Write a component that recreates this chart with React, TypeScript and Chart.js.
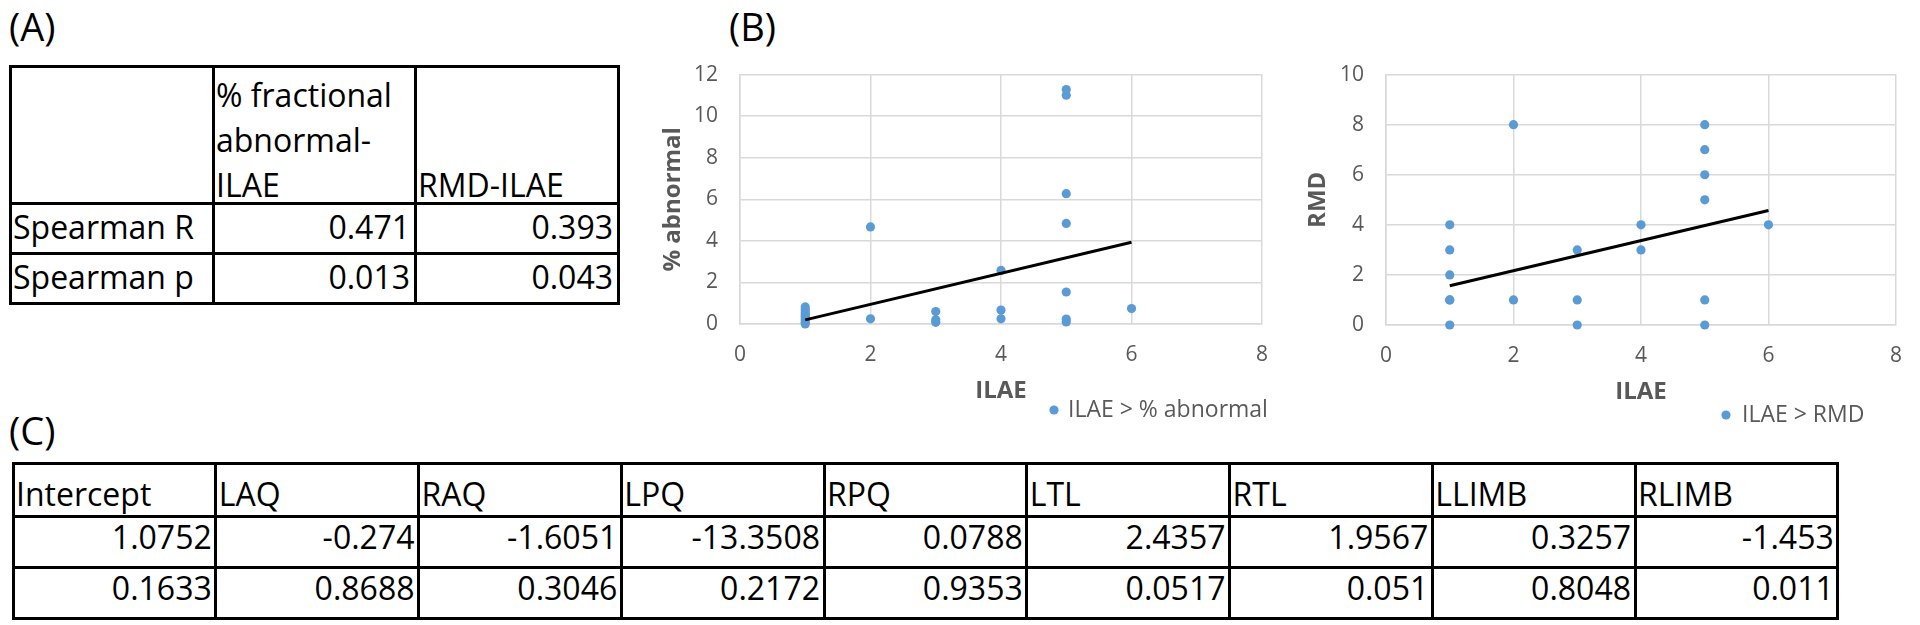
import React, { useEffect, useRef } from 'react';
import { Chart, registerables } from 'chart.js';
Chart.register(...registerables);

// ---------- Data ----------
// Panel B (left): ILAE vs % abnormal
const abnIlae = [1, 1, 1, 1, 1, 1, 1, 1, 1, 2, 2, 3, 3, 3, 4, 4, 4, 5, 5, 5, 5, 5, 5, 5, 6];
const abnPct = [0.82, 0.7, 0.58, 0.47, 0.37, 0.27, 0.17, 0.08, 0.0, 4.67, 0.25, 0.6, 0.2, 0.08, 2.58, 0.67, 0.25, 11.28, 11.01, 6.27, 4.84, 1.54, 0.24, 0.1, 0.74];
const abnTrendX = [1, 6];
const abnTrendY = [0.2, 3.93];

// Panel B (right): ILAE vs RMD
const rmdIlae = [1, 1, 1, 1, 1, 1, 2, 2, 3, 3, 3, 4, 4, 5, 5, 5, 5, 5, 5, 6];
const rmdVal = [4, 3, 2, 1, 1, 0, 8, 1, 3, 1, 0, 4, 3, 8, 7, 6, 5, 1, 0, 4];
const rmdTrendX = [1, 6];
const rmdTrendY = [1.57, 4.57];

const xTicksMax = 8;
const abnYMax = 12;
const rmdYMax = 10;

// Panel A table
const tableAHeader = ['', '% fractional\nabnormal-\nILAE', 'RMD-ILAE'];
const tableARowLabels = ['Spearman R', 'Spearman p'];
const tableAFractional = ['0.471', '0.013'];
const tableARmd = ['0.393', '0.043'];

// Panel C table
const tableCHeader = ['Intercept', 'LAQ', 'RAQ', 'LPQ', 'RPQ', 'LTL', 'RTL', 'LLIMB', 'RLIMB'];
const tableCRow1 = ['1.0752', '-0.274', '-1.6051', '-13.3508', '0.0788', '2.4357', '1.9567', '0.3257', '-1.453'];
const tableCRow2 = ['0.1633', '0.8688', '0.3046', '0.2172', '0.9353', '0.0517', '0.051', '0.8048', '0.011'];

// ---------- Styles ----------
const FONT = '"Open Sans", "Noto Sans", sans-serif';
const BLUE = '#5B9BD5';
const GRAY = '#595959';
const GRID = '#D9D9D9';

const dotLegend = {
  id: 'dotLegend',
  afterDraw(chart: any, _args: any, opts: any) {
    const ctx = chart.ctx;
    const ds = chart.data.datasets[0];
    ctx.save();
    ctx.fillStyle = ds.backgroundColor;
    ctx.beginPath();
    ctx.arc(opts.x, opts.y, 4.6, 0, Math.PI * 2);
    ctx.fill();
    ctx.font = `23px ${FONT}`;
    ctx.fillStyle = GRAY;
    ctx.textBaseline = 'middle';
    ctx.textAlign = 'left';
    ctx.fillText(ds.label, opts.x + opts.gap, opts.y);
    ctx.restore();
  },
};

type PanelProps = {
  left: number; top: number; width: number; height: number;
  xs: number[]; ys: number[]; trendX: number[]; trendY: number[];
  yMax: number; yTitle: string; label: string;
  padTop: number; padRight: number; padBottom: number;
  yAxisWidth: number; xAxisHeight: number;
  yTitlePad: number; xTitlePad: number;
  legendX: number; legendY: number; legendGap: number;
};

function ScatterPanel(p: PanelProps) {
  const ref = useRef<HTMLCanvasElement>(null);
  useEffect(() => {
    const canvas = ref.current!;
    const points = p.xs.map((x, i) => ({ x, y: p.ys[i] }));
    const trend = p.trendX.map((x, i) => ({ x, y: p.trendY[i] }));
    const chart = new Chart(canvas, {
      type: 'scatter',
      data: {
        datasets: [
          {
            label: p.label, data: points, backgroundColor: BLUE, borderColor: BLUE,
            pointRadius: 4.6, pointHoverRadius: 4.6, pointBorderWidth: 0, clip: false, order: 1,
          } as any,
          {
            label: 'Linear trend', data: trend, showLine: true, borderColor: '#000', backgroundColor: '#000',
            borderWidth: 3, pointRadius: 0, clip: false, order: 0,
          } as any,
        ],
      },
      options: {
        responsive: false,
        animation: false,
        devicePixelRatio: 1,
        events: [],
        layout: { padding: { left: 0, top: p.padTop, right: p.padRight, bottom: p.padBottom } },
        plugins: {
          legend: { display: false },
          tooltip: { enabled: false },
          dotLegend: { x: p.legendX, y: p.legendY, gap: p.legendGap },
        } as any,
        scales: {
          x: {
            type: 'linear', position: 'bottom', min: 0, max: xTicksMax,
            ticks: { stepSize: 2, color: GRAY, font: { family: FONT, size: 21 }, padding: 18 },
            grid: { color: GRID, lineWidth: 1.5, drawTicks: false },
            border: { color: GRID, width: 1.5 },
            title: {
              display: true, text: 'ILAE', color: GRAY,
              font: { family: FONT, size: 24, weight: 'bold' },
              padding: { top: 0, bottom: p.xTitlePad },
            },
            afterFit: (s: any) => { s.height = p.xAxisHeight; },
          },
          y: {
            type: 'linear', position: 'left', min: 0, max: p.yMax,
            ticks: { stepSize: 2, color: GRAY, font: { family: FONT, size: 21 }, padding: 22 },
            grid: { color: GRID, lineWidth: 1.5, drawTicks: false },
            border: { color: GRID, width: 1.5 },
            title: {
              display: true, text: p.yTitle, color: GRAY,
              font: { family: FONT, size: 24, weight: 'bold' },
              padding: { top: p.yTitlePad, bottom: 0 },
            },
            afterFit: (s: any) => { s.width = p.yAxisWidth; },
          },
        } as any,
      },
      plugins: [dotLegend as any],
    });
    return () => chart.destroy();
  }, []);
  return (
    <canvas
      ref={ref}
      width={p.width}
      height={p.height}
      style={{ position: 'absolute', left: p.left, top: p.top, width: p.width, height: p.height }}
    />
  );
}

// ---------- Ruled table drawn with absolutely placed lines and text ----------
const FS = 32;
const LINE = 3;

type CellText = { text: string; align: 'left' | 'right'; baseline: number; lineHeight?: number };

function RuledTable(props: {
  colX: number[]; rowY: number[]; cells: CellText[][]; padL: number; padR: number;
}) {
  const { colX, rowY, cells, padL, padR } = props;
  const x0 = colX[0];
  const x1 = colX[colX.length - 1];
  const y0 = rowY[0];
  const y1 = rowY[rowY.length - 1];
  const items: React.ReactNode[] = [];
  rowY.forEach((y, i) => {
    items.push(
      <div key={'h' + i} style={{ position: 'absolute', left: x0 - LINE / 2, top: y - LINE / 2, width: x1 - x0 + LINE, height: LINE, background: '#000' }} />
    );
  });
  colX.forEach((x, i) => {
    items.push(
      <div key={'v' + i} style={{ position: 'absolute', left: x - LINE / 2, top: y0 - LINE / 2, width: LINE, height: y1 - y0 + LINE, background: '#000' }} />
    );
  });
  cells.forEach((row, r) => {
    row.forEach((c, k) => {
      if (!c.text) return;
      const lh = c.lineHeight ?? 36;
      const baseOff = (lh - 1.362 * FS) / 2 + 1.069 * FS;
      const top = c.baseline - baseOff;
      const style: React.CSSProperties = {
        position: 'absolute',
        top,
        fontFamily: FONT,
        fontSize: FS,
        lineHeight: `${lh}px`,
        color: '#000',
        whiteSpace: 'pre',
      };
      if (c.align === 'left') {
        style.left = colX[k] + padL;
      } else {
        style.right = 1920 - (colX[k + 1] - padR);
        style.textAlign = 'right';
      }
      items.push(<div key={`t${r}-${k}`} style={style}>{c.text}</div>);
    });
  });
  return <>{items}</>;
}

const panelLabel: React.CSSProperties = {
  position: 'absolute',
  fontFamily: FONT,
  fontSize: 38,
  lineHeight: '38px',
  color: '#000',
};

export default function App() {
  const aColX = [10, 213, 415, 618];
  const aRowY = [66, 203, 253, 303];
  const aCells: CellText[][] = [
    [
      { text: tableAHeader[0], align: 'left', baseline: 197 },
      { text: tableAHeader[1], align: 'left', baseline: 107, lineHeight: 45 },
      { text: tableAHeader[2], align: 'left', baseline: 197 },
    ],
    ...tableARowLabels.map((lab, i) => [
      { text: lab, align: 'left', baseline: 239 + i * 50 } as CellText,
      { text: tableAFractional[i], align: 'right', baseline: 239 + i * 50 } as CellText,
      { text: tableARmd[i], align: 'right', baseline: 239 + i * 50 } as CellText,
    ]),
  ];

  const cColX = tableCHeader.map((_, i) => 13 + i * 202.75).concat([13 + 9 * 202.75]);
  const cRowY = [463, 516, 567, 618];
  const cCells: CellText[][] = [
    tableCHeader.map((h) => ({ text: h, align: 'left', baseline: 506 } as CellText)),
    tableCRow1.map((v) => ({ text: v, align: 'right', baseline: 549 } as CellText)),
    tableCRow2.map((v) => ({ text: v, align: 'right', baseline: 600 } as CellText)),
  ];

  return (
    <div style={{ position: 'absolute', left: 0, top: 0, width: 1920, height: 625, overflow: 'hidden', background: '#fff' }}>
      <div style={{ ...panelLabel, left: 9, top: 7 }}>(A)</div>
      <div style={{ ...panelLabel, left: 729, top: 7 }}>(B)</div>
      <div style={{ ...panelLabel, left: 9, top: 411 }}>(C)</div>

      <RuledTable colX={aColX} rowY={aRowY} cells={aCells} padL={3} padR={5} />

      <ScatterPanel
        left={620} top={40} width={680} height={400}
        xs={abnIlae} ys={abnPct} trendX={abnTrendX} trendY={abnTrendY}
        yMax={abnYMax} yTitle="% abnormal" label="ILAE > % abnormal"
        padTop={30} padRight={38} padBottom={26}
        yAxisWidth={120} xAxisHeight={90}
        yTitlePad={38.6} xTitlePad={8.6}
        legendX={434} legendY={370} legendGap={14}
      />
      <ScatterPanel
        left={1266} top={40} width={654} height={400}
        xs={rmdIlae} ys={rmdVal} trendX={rmdTrendX} trendY={rmdTrendY}
        yMax={rmdYMax} yTitle="RMD" label="ILAE > RMD"
        padTop={31} padRight={14} padBottom={25}
        yAxisWidth={120} xAxisHeight={90}
        yTitlePad={37.6} xTitlePad={8.6}
        legendX={460} legendY={375} legendGap={16}
      />

      <RuledTable colX={cColX} rowY={cRowY} cells={cCells} padL={3} padR={4} />
    </div>
  );
}
